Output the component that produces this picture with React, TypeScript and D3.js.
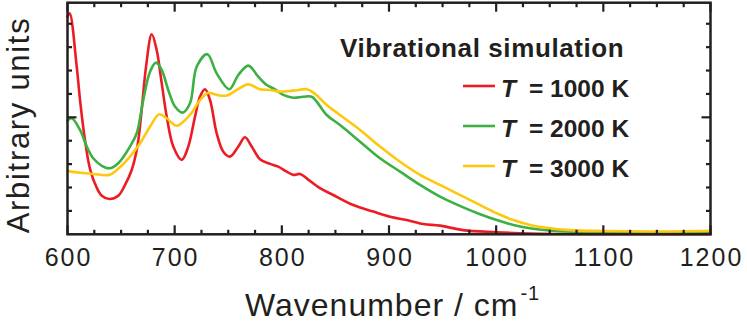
import React from 'react';
import * as d3 from 'd3';

// ---------- data ----------
const temperatures = [1000, 2000, 3000];
const seriesColors = ['#ec1c24', '#3cb043', '#fdc80f'];
const legendTitle = 'Vibrational simulation';
const xLabel = 'Wavenumber / cm';
const xLabelSup = '-1';
const yLabel = 'Arbitrary units';
const xTickLabels = [600, 700, 800, 900, 1000, 1100, 1200];

const w1000 = [600, 602, 608.6, 611.7, 616.3, 621, 627.2, 632, 639, 647.4, 653, 659.9, 665.2, 669.2, 673.3, 678.6, 683.2, 687.9, 692.6, 698.7, 706.6, 712.7, 719, 723.6, 728.3, 733, 739.2, 745.4, 751.6, 759.4, 765.6, 771.9, 779.6, 789, 796.7, 804.5, 810.7, 817, 823.2, 835.6, 848, 866.7, 885.3, 901, 916.5, 932, 947.6, 969, 1000, 1031.6, 1060, 1100, 1150, 1200];
const v1000 = [0.93, 0.945, 0.717, 0.574, 0.403, 0.28, 0.2, 0.165, 0.151, 0.165, 0.205, 0.275, 0.375, 0.531, 0.717, 0.855, 0.788, 0.646, 0.503, 0.375, 0.318, 0.375, 0.503, 0.588, 0.62, 0.574, 0.432, 0.353, 0.332, 0.375, 0.415, 0.375, 0.321, 0.301, 0.289, 0.268, 0.254, 0.258, 0.239, 0.197, 0.168, 0.125, 0.097, 0.075, 0.061, 0.044, 0.037, 0.018, 0.009, 0.003, 0.001, 0.0, 0.0, 0.0];

const w2000 = [600, 604, 611.7, 618, 624, 632, 639, 647.4, 658.3, 664.6, 670.7, 677, 682.6, 688, 694, 700.3, 707.5, 714.3, 720.6, 730.5, 739.2, 751, 759.4, 768.7, 778, 785.9, 793.6, 801.4, 810.7, 820, 828, 832.5, 841.9, 854.3, 873, 891.6, 910.3, 929, 947.6, 969.3, 985, 1000.5, 1016, 1031.6, 1047, 1069, 1100, 1150, 1200];
const v2000 = [0.486, 0.496, 0.446, 0.375, 0.325, 0.293, 0.282, 0.304, 0.375, 0.432, 0.574, 0.695, 0.734, 0.702, 0.617, 0.546, 0.52, 0.56, 0.717, 0.77, 0.688, 0.62, 0.681, 0.721, 0.674, 0.638, 0.62, 0.596, 0.584, 0.588, 0.588, 0.567, 0.51, 0.467, 0.396, 0.325, 0.268, 0.211, 0.161, 0.115, 0.086, 0.061, 0.04, 0.026, 0.018, 0.011, 0.008, 0.006, 0.005];

const w3000 = [600, 611.7, 624, 639, 646, 658.3, 667.7, 677, 685.7, 692.6, 701.9, 714.3, 723.6, 731.4, 739.2, 748.6, 757.9, 768.7, 779.6, 789, 798.3, 810.7, 823.2, 828, 834, 841.9, 854.3, 873, 891.6, 910.3, 929, 947.6, 969.3, 985, 1000.5, 1016, 1031.6, 1047, 1069, 1100, 1150, 1200];
const v3000 = [0.271, 0.263, 0.258, 0.254, 0.275, 0.332, 0.389, 0.46, 0.513, 0.496, 0.464, 0.51, 0.574, 0.605, 0.596, 0.593, 0.617, 0.641, 0.62, 0.617, 0.61, 0.614, 0.62, 0.61, 0.588, 0.553, 0.51, 0.446, 0.375, 0.31, 0.254, 0.211, 0.161, 0.125, 0.09, 0.061, 0.04, 0.028, 0.018, 0.014, 0.012, 0.015];

const seriesW = [w1000, w2000, w3000];
const seriesV = [v1000, v2000, v3000];

// ---------- layout ----------
const W = 747;
const H = 323;
const left = 67.5;
const right = 710.5;
const top = 2.7;
const bottom = 234.3;
const ink = '#231f20';
const font = '"Liberation Sans", Arial, Helvetica, sans-serif';

export default function App() {
  const x = d3.scaleLinear().domain([600, 1200]).range([left, right]);
  const y = d3.scaleLinear().domain([0, 0.99]).range([bottom, top]);

  const line = d3
    .line<[number, number]>()
    .x((d) => x(d[0]))
    .y((d) => y(d[1]))
    .curve(d3.curveCatmullRom.alpha(0.5));

  const xMinor = d3.range(600, 1200.1, 25);
  const yMinor = d3.range(0.1, 0.95, 0.1);

  const tickW = 2.2;

  return (
    <svg
      width={W}
      height={H}
      style={{ position: 'absolute', left: 0, top: 0, background: '#fff' }}
      fontFamily={font}
    >
      <rect x={0} y={0} width={W} height={H} fill="#fff" />
      {/* series */}
      {seriesW.map((ws, i) => {
        const pts = ws.map((w, j) => [w, seriesV[i][j]] as [number, number]);
        return (
          <path
            key={i}
            d={line(pts) || ''}
            fill="none"
            stroke={seriesColors[i]}
            strokeWidth={2.6}
            strokeLinejoin="round"
            strokeLinecap="round"
          />
        );
      })}
      {/* x ticks */}
      {xMinor.map((v) => {
        const major = v % 100 === 0;
        const len = major ? 9 : 4.5;
        const px = x(v);
        return (
          <g key={'xt' + v}>
            <line x1={px} x2={px} y1={bottom} y2={bottom - len} stroke={ink} strokeWidth={tickW} />
            <line x1={px} x2={px} y1={top} y2={top + len} stroke={ink} strokeWidth={tickW} />
          </g>
        );
      })}
      {/* y ticks */}
      {yMinor.map((v, i) => {
        const major = i === 4;
        const len = major ? 9 : 4.5;
        const py = y(v);
        return (
          <g key={'yt' + i}>
            <line x1={left} x2={left + len} y1={py} y2={py} stroke={ink} strokeWidth={tickW} />
            <line x1={right} x2={right - len} y1={py} y2={py} stroke={ink} strokeWidth={tickW} />
          </g>
        );
      })}
      {/* frame */}
      <rect
        x={left}
        y={top}
        width={right - left}
        height={bottom - top}
        fill="none"
        stroke={ink}
        strokeWidth={2.5}
      />
      {/* x tick labels */}
      {xTickLabels.map((v) => (
        <text
          key={'xl' + v}
          x={x(v) + 1}
          y={266}
          textAnchor="middle"
          fontSize={25}
          letterSpacing={2}
          fill={ink}
        >
          {v}
        </text>
      ))}
      {/* x axis title */}
      <text x={245} y={316} fontSize={32} letterSpacing={1} fill={ink}>
        {xLabel}
        <tspan fontSize={20} dy={-16} dx={2}>
          {xLabelSup}
        </tspan>
      </text>
      {/* y axis title */}
      <text
        transform={`translate(29, 125) rotate(-90)`}
        textAnchor="middle"
        fontSize={31}
        letterSpacing={1.7}
        fill={ink}
      >
        {yLabel}
      </text>
      {/* legend */}
      <text x={340} y={57} fontSize={26} fontWeight="bold" letterSpacing={0.6} fill={ink}>
        {legendTitle}
      </text>
      {temperatures.map((t, i) => {
        const ly = 86 + i * 40;
        return (
          <g key={'lg' + t}>
            <line x1={463} x2={495} y1={ly} y2={ly} stroke={seriesColors[i]} strokeWidth={2.6} />
            <text x={501} y={ly + 10.5} fontSize={24.5} fontWeight="bold" fill={ink}>
              <tspan fontStyle="italic">T</tspan>
            </text>
            <text x={529} y={ly + 10.5} fontSize={24.5} fontWeight="bold" fill={ink}>
              {`= ${t} K`}
            </text>
          </g>
        );
      })}
    </svg>
  );
}
